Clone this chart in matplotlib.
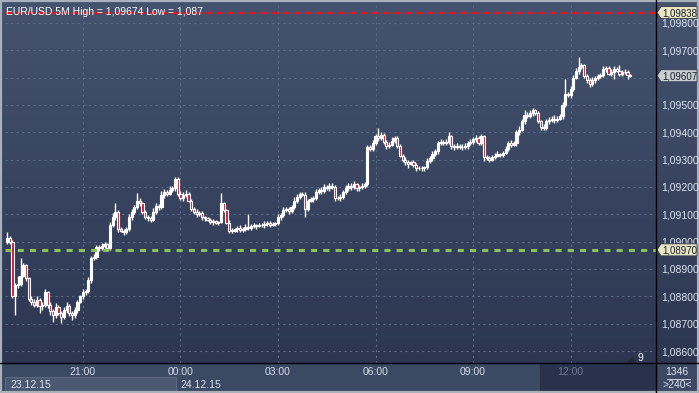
import numpy as np
import matplotlib.pyplot as plt
from matplotlib.colors import LinearSegmentedColormap
from matplotlib.patches import Rectangle, Polygon

plt.rcParams['font.family'] = ['Liberation Sans', 'DejaVu Sans']

# EUR/USD 5M, prices in 1e-5 above 1.00000
first_open = 9000
closes = [
    9012, 9000, 8800, 8840, 8845, 8875, 8915, 8867, 8790, 8780,
    8770, 8785, 8765, 8770, 8815, 8768, 8745, 8730, 8760, 8740,
    8725, 8750, 8765, 8740, 8730, 8750, 8780, 8800, 8815, 8820,
    8860, 8940, 8945, 8980, 8975, 8985, 8990, 8975, 9060, 9090,
    9110, 9045, 9040, 9035, 9045, 9090, 9110, 9125, 9150, 9140,
    9110, 9090, 9085, 9080, 9110, 9130, 9125, 9170, 9180, 9175,
    9190, 9195, 9230, 9175, 9160, 9170, 9175, 9150, 9120, 9110,
    9100, 9105, 9090, 9085, 9080, 9072, 9075, 9070, 9072, 9140,
    9115, 9070, 9040, 9040, 9045, 9050, 9042, 9048, 9055, 9050,
    9058, 9060, 9058, 9062, 9060, 9065, 9068, 9062, 9064, 9068,
    9090, 9098, 9115, 9120, 9112, 9125, 9150, 9165, 9175, 9172,
    9120, 9150, 9155, 9160, 9180, 9190, 9185, 9200, 9195, 9205,
    9200, 9160, 9158, 9165, 9180, 9195, 9205, 9200, 9210, 9195,
    9200, 9205, 9210, 9345, 9340, 9360, 9385, 9380, 9390, 9365,
    9350, 9355, 9370, 9380, 9350, 9315, 9300, 9290, 9285, 9290,
    9280, 9270, 9268, 9270, 9272, 9295, 9305, 9320, 9330, 9360,
    9365, 9362, 9365, 9385, 9350, 9345, 9350, 9348, 9345, 9350,
    9360, 9365, 9375, 9380, 9360, 9385, 9310, 9305, 9300, 9310,
    9315, 9320, 9318, 9325, 9340, 9360, 9355, 9360, 9400, 9410,
    9440, 9465, 9460, 9470, 9480, 9470, 9440, 9420, 9415, 9440,
    9445, 9450, 9445, 9450, 9460, 9500, 9540, 9535, 9560, 9600,
    9625, 9640, 9645, 9605, 9590, 9575, 9590, 9600, 9605, 9610,
    9630, 9635, 9615, 9620, 9630, 9625, 9615, 9620, 9622, 9610, 9607]
wick_up = [
    23, 10, 5, 10, 30, 65, 8, 5, 5, 10,
    12, 15, 8, 10, 12, 6, 10, 8, 15, 10,
    8, 10, 15, 6, 8, 10, 8, 6, 10, 8,
    12, 8, 10, 8, 6, 10, 8, 6, 12, 15,
    30, 6, 8, 5, 10, 12, 10, 8, 28, 10,
    6, 5, 8, 10, 12, 10, 8, 15, 12, 10,
    12, 10, 7, 8, 10, 12, 15, 6, 5, 8,
    10, 6, 8, 5, 6, 5, 8, 6, 5, 38,
    6, 5, 8, 10, 6, 8, 10, 6, 8, 45,
    8, 10, 6, 8, 5, 10, 8, 6, 8, 5,
    10, 8, 12, 6, 8, 10, 12, 10, 8, 6,
    8, 6, 10, 8, 12, 8, 10, 12, 6, 8,
    10, 6, 8, 10, 8, 12, 10, 8, 12, 6,
    8, 10, 8, 10, 8, 12, 10, 30, 12, 6,
    8, 10, 12, 8, 6, 8, 6, 10, 8, 6,
    8, 6, 5, 8, 6, 10, 8, 12, 10, 8,
    10, 8, 12, 15, 6, 8, 10, 6, 8, 10,
    8, 10, 8, 12, 6, 10, 6, 8, 10, 6,
    8, 10, 6, 8, 10, 8, 12, 10, 8, 12,
    10, 15, 8, 12, 10, 6, 8, 5, 10, 8,
    10, 8, 12, 10, 8, 10, 55, 8, 10, 8,
    12, 34, 8, 6, 10, 8, 12, 6, 10, 8,
    12, 8, 6, 10, 12, 8, 20, 8, 10, 6, 5]
wick_dn = [
    8, 10, 6, 68, 10, 8, 6, 10, 8, 12,
    10, 8, 25, 15, 8, 10, 12, 25, 8, 10,
    23, 8, 10, 12, 15, 8, 10, 6, 8, 10,
    8, 10, 6, 10, 8, 6, 10, 8, 6, 8,
    10, 8, 6, 10, 8, 6, 10, 8, 6, 10,
    8, 6, 10, 8, 6, 10, 8, 6, 10, 8,
    6, 8, 10, 8, 6, 10, 8, 6, 8, 10,
    8, 6, 10, 8, 6, 8, 10, 6, 8, 5,
    8, 6, 10, 8, 6, 10, 8, 6, 10, 8,
    6, 8, 10, 6, 8, 10, 6, 8, 6, 8,
    6, 10, 8, 6, 10, 8, 6, 8, 10, 6,
    30, 8, 6, 10, 8, 6, 10, 8, 6, 10,
    8, 12, 6, 8, 10, 6, 8, 10, 6, 8,
    10, 6, 8, 6, 10, 8, 6, 10, 8, 6,
    10, 8, 6, 10, 8, 6, 10, 8, 15, 6,
    8, 10, 6, 8, 10, 6, 8, 10, 6, 8,
    6, 10, 8, 6, 10, 8, 6, 10, 8, 6,
    10, 8, 6, 10, 8, 6, 15, 8, 10, 6,
    8, 6, 10, 8, 6, 10, 8, 6, 10, 8,
    6, 10, 8, 6, 10, 8, 6, 10, 8, 6,
    8, 6, 10, 8, 6, 10, 8, 6, 10, 8,
    6, 10, 8, 6, 10, 8, 6, 10, 8, 6,
    8, 10, 6, 8, 25, 6, 8, 10, 6, 15, 6]

start_minutes = 18 * 60 + 40          # first candle 18:40, 23.12.15
time_labels = ['21:00', '00:00', '03:00', '06:00', '09:00', '12:00']
dates = ['23.12.15', '24.12.15']
price_ticks = [1.086, 1.087, 1.088, 1.089, 1.090, 1.091, 1.092,
               1.093, 1.094, 1.095, 1.096, 1.097, 1.098]
red_level = 1.09838
green_level = 1.08970
last_price = 1.09607
title = 'EUR/USD 5M High = 1,09674 Low = 1,087'

c = 1.0 + np.array(closes) / 1e5
o = np.concatenate([[1.0 + first_open / 1e5], c[:-1]])
h = np.maximum(o, c) + np.array(wick_up) / 1e5
l = np.minimum(o, c) - np.array(wick_dn) / 1e5
idx = np.arange(len(c))

W, H = 699, 393
fig = plt.figure(figsize=(W / 100, H / 100), dpi=100)

# background in pixel coords
bg = fig.add_axes([0, 0, 1, 1], zorder=0)
bg.set_xlim(0, W)
bg.set_ylim(H, 0)
bg.axis('off')
cmap = LinearSegmentedColormap.from_list('bgc', ['#45536f', '#2c3651'])
bg.imshow(np.linspace(0, 1, 100).reshape(-1, 1), cmap=cmap, aspect='auto',
          extent=[0, W, 363, 0])
bg.add_patch(Rectangle((0, 363), W, 30, color='#3c4962'))
bg.add_patch(Rectangle((540, 363), 116, 30, color='#28334b'))
bg.add_patch(Rectangle((5, 377), 171, 16, facecolor='#4a5870', edgecolor='#5d6a80', lw=0.8))
bg.add_patch(Rectangle((0, 0), W, H, fill=False, edgecolor='#a9b1bd', lw=3))

# main chart
ax = fig.add_axes([5 / W, 30 / H, (656 - 5) / W, (391 - 30) / H], zorder=1)
ax.set_facecolor('none')
ax.set_xlim(-0.74, 239.5)
ax.set_ylim(1.085561, 1.098768)

up = c >= o
ax.vlines(idx, l, h, color='white', lw=1.0, zorder=3)
body_h = np.maximum(np.abs(c - o), 0.000015)
ax.bar(idx, body_h, bottom=np.minimum(o, c), width=0.8,
       color=['white' if u else '#e3112c' for u in up], edgecolor='white', lw=0.8, zorder=4)

ax.axhline(red_level, color='#e3141e', lw=1.6, ls=(0, (3, 2)), zorder=5)
ax.axhline(green_level, color='#8dc05a', lw=2.2, ls=(0, (2, 2)), zorder=5)

tick_pos = []
for lab in time_labels:
    hh = int(lab[:2])
    tick_pos.append(((hh * 60 - start_minutes) % 1440) / 5)
ax.set_xticks(tick_pos)
ax.set_xticklabels(time_labels)
ax.set_yticks(price_ticks)
# the 1,09600 label sits under the last-price tag
ax.set_yticklabels(['' if abs(p - 1.096) < 1e-9 else ('%.5f' % p).replace('.', ',')
                    for p in price_ticks])
ax.yaxis.tick_right()
ax.tick_params(axis='y', length=0, pad=4, labelsize=7.5, labelcolor='#dde4ef')
ax.tick_params(axis='x', length=0, pad=3, labelsize=7.5, labelcolor='#d5dcea')
ax.get_xticklabels()[-1].set_color('#6d7a92')
ax.grid(True, color='#5a6984', lw=0.8, ls=(0, (2, 3)), zorder=1)
for s in ax.spines.values():
    s.set_visible(False)

ax.text(0.002, 0.985, title, transform=ax.transAxes, color='white',
        fontsize=7.5, va='top', ha='left', zorder=6)

# separators
bg2 = fig.add_axes([0, 0, 1, 1], zorder=2)
bg2.set_xlim(0, W)
bg2.set_ylim(H, 0)
bg2.axis('off')
bg2.plot([656, 656], [0, H], color='black', lw=1)
bg2.plot([0, W], [363, 363], color='black', lw=1)


def ypx(p):
    return H - ax.transData.transform((0, p))[1]


for p, fc in [(red_level, '#e8e6c6'), (last_price, '#c9cdd4'), (green_level, '#e8e6c6')]:
    y = ypx(p)
    bg2.add_patch(Polygon([(657, y), (661, y - 6), (697, y - 6), (697, y + 6), (661, y + 6)],
                          closed=True, facecolor=fc, edgecolor='#333a46', lw=0.6))
    bg2.text(679.5, y + 0.5, ('%.5f' % p).replace('.', ','), fontsize=7, color='#1a1e26',
             va='center', ha='center')

bg2.text(10, 385, dates[0], fontsize=7.5, color='#dde4ef', va='center')
bg2.text(180, 385, dates[1], fontsize=7.5, color='#dde4ef', va='center')
bg2.add_patch(Polygon([(628, 362), (632, 358), (636, 362)], closed=True, color='#222a3a'))
bg2.text(637, 358, '9', fontsize=7.5, color='white', va='center')
bg2.text(677, 372, '1346', fontsize=7.5, color='#dde4ef', va='center', ha='center')
bg2.plot([667, 690], [378.5, 378.5], color='#dde4ef', lw=0.6)
bg2.text(677, 385, '>240<', fontsize=7.5, color='#dde4ef', va='center', ha='center')

fig.savefig('out.png', dpi=100)
